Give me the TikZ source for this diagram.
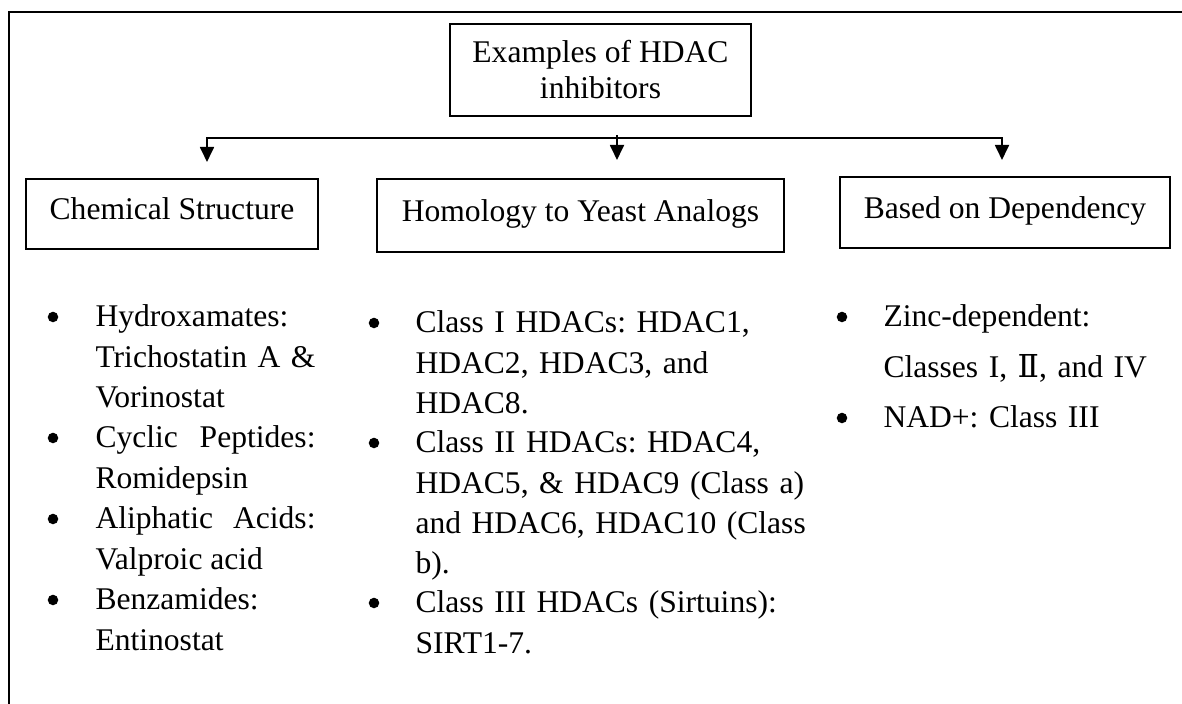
\documentclass[tikz,border=0pt]{standalone}
\usepackage{fontspec}
\setmainfont{Liberation Serif}
\newfontfamily\numfont{DejaVu Serif}
\usetikzlibrary{arrows.meta}
\newlength\pxu
\setlength\pxu{0.38pt}
\frenchspacing
\tikzset{
    box/.style = {draw, line width = 0.75pt, inner sep = 0pt},
    catbox/.style = {box, text height = 0.7em, text depth = 0.25em},
    listtext/.style = {anchor = base west, inner sep = 0pt, font = \fontsize{12}{15.3}\selectfont},
    dot/.style = {circle, fill, inner sep = 0pt, minimum size = 4pt},
    down/.style = {-{Triangle[length = 5.7pt, width = 5.3pt]}, line width = 0.75pt}
}
\begin{document}
\begin{tikzpicture}[
    x = 0.38pt,
    y = -0.38pt,
    font = \fontsize{12}{13.7}\selectfont
]
\useasboundingbox (0,0) rectangle (1182,704);
\clip (0,0) rectangle (1182,704);
\draw[line width = 0.75pt] (9,12) rectangle (1230,740);
\node[box, align = center, minimum width = 301\pxu, minimum height = 92\pxu] (hdac) at (600.5,70) {Examples of HDAC\\inhibitors};
\node[catbox, minimum width = 292\pxu, minimum height = 70\pxu] (chem) at (172,214) {Chemical Structure};
\node[catbox, minimum width = 407\pxu, minimum height = 73\pxu] (homol) at (580.5,215.5) {Homology to Yeast Analogs};
\node[catbox, minimum width = 330\pxu, minimum height = 71\pxu] (depend) at (1005,212.5) {Based on Dependency};
% arrows
\coordinate (bus) at (617,138);
\coordinate (tochem) at (207,162);
\coordinate (tohomol) at (617,160);
\coordinate (todepend) at (1002,160);
\draw[down] (bus) -| (tochem);
\draw[down] (bus) -| (todepend);
\draw[down] ([yshift = 1.2pt]bus) -- (tohomol);
% chemical structure
\node[dot] (chemAdot) at (53,317) {};
\node[listtext, text width = 220\pxu, align = justify] (chemA) at (95,327) {Hydroxamates:\newline Trichostatin A \&\linebreak Vorinostat};
\node[dot] (chemBdot) at (53,438) {};
\node[listtext, text width = 220\pxu, align = justify] (chemB) at (95,448) {Cyclic Peptides:\linebreak Romidepsin};
\node[dot] (chemCdot) at (53,519) {};
\node[listtext, text width = 220\pxu, align = justify] (chemC) at (95,529) {Aliphatic Acids:\linebreak Valproic acid};
\node[dot] (chemDdot) at (53,600) {};
\node[listtext, text width = 220\pxu, align = justify] (chemD) at (95,610) {Benzamides:\newline Entinostat};
% homology
\node[dot] (homAdot) at (374,323) {};
\node[listtext, text width = 400\pxu, align = left] (homA) at (415,333) {Class I HDACs: HDAC1,\newline HDAC2, HDAC3, and\newline HDAC8.};
\node[dot] (homBdot) at (374,443) {};
\node[listtext, text width = 400\pxu, align = left] (homB) at (415,453) {Class II HDACs: HDAC4,\newline HDAC5, \& HDAC9 (Class a)\newline and HDAC6, HDAC10 (Class\newline b).};
\node[dot] (homCdot) at (374,603) {};
\node[listtext, text width = 400\pxu, align = left] (homC) at (415,613) {Class III HDACs (Sirtuins):\newline SIRT1-7.};
% dependency
\node[dot] (depAdot) at (842,317) {};
\node[listtext, text width = 290\pxu, align = left, font = \fontsize{12}{19.2}\selectfont] (depA) at (883,327) {Zinc-dependent:\newline Classes I, {\numfont Ⅱ}, and IV};
\node[dot] (depBdot) at (842,418) {};
\node[listtext, text width = 290\pxu, align = left] (depB) at (883,428) {NAD+: Class III};

\end{tikzpicture}
\end{document}
